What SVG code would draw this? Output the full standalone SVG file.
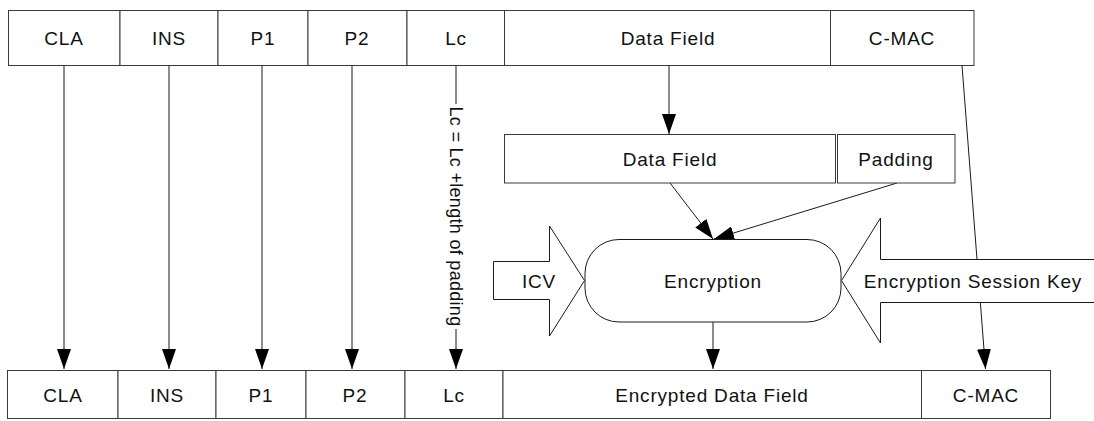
<svg xmlns="http://www.w3.org/2000/svg" width="1094" height="421" viewBox="0 0 1094 421">
<defs>
<marker id="ah" viewBox="0 0 20 14" refX="20" refY="7" markerWidth="20" markerHeight="14" markerUnits="userSpaceOnUse" orient="auto">
<path d="M0,0 L20,7 L0,14 Z" fill="#000"/>
</marker>
<style>
.box{fill:#fff;stroke:#3a3a3a;stroke-width:1}
.shape{fill:#fff;stroke:#1a1a1a;stroke-width:1}
.t{font-family:"Liberation Sans",Arial,sans-serif;font-size:19px;letter-spacing:0.8px;fill:#111;text-anchor:middle;dominant-baseline:central}
.c{fill:none;stroke:#1a1a1a;stroke-width:1}
.ca{fill:none;stroke:#1a1a1a;stroke-width:1;marker-end:url(#ah)}
</style>
</defs>
<rect width="1094" height="421" fill="#fff"/>

<g id="top-row">
<g id="top-cla"><rect class="box" x="8.5" y="10.5" width="111.5" height="55"/><text class="t" x="64" y="38">CLA</text></g>
<g id="top-ins"><rect class="box" x="120" y="10.5" width="98" height="55"/><text class="t" x="169" y="38">INS</text></g>
<g id="top-p1"><rect class="box" x="218" y="10.5" width="90" height="55"/><text class="t" x="263" y="38">P1</text></g>
<g id="top-p2"><rect class="box" x="308" y="10.5" width="99" height="55"/><text class="t" x="357" y="38">P2</text></g>
<g id="top-lc"><rect class="box" x="407" y="10.5" width="97.5" height="55"/><text class="t" x="456" y="38">Lc</text></g>
<g id="top-data"><rect class="box" x="504.5" y="10.5" width="326" height="55"/><text class="t" x="668" y="38">Data Field</text></g>
<g id="top-cmac"><rect class="box" x="830.5" y="10.5" width="143.5" height="55"/><text class="t" x="902" y="38">C-MAC</text></g>
</g>

<g id="connectors">
<line class="ca" x1="64" y1="65.5" x2="64" y2="369"/>
<line class="ca" x1="169" y1="65.5" x2="169" y2="369"/>
<line class="ca" x1="262" y1="65.5" x2="262" y2="369"/>
<line class="ca" x1="352" y1="65.5" x2="352" y2="369"/>
<line class="c" x1="456" y1="65.5" x2="456" y2="104"/>
<line class="ca" x1="456" y1="329" x2="456" y2="369"/>
<line class="ca" x1="669" y1="65.5" x2="669" y2="134"/>
<line class="ca" x1="670" y1="183" x2="713" y2="239"/>
<line class="ca" x1="897" y1="183" x2="714" y2="239"/>
<line class="ca" x1="713" y1="322" x2="713" y2="369"/>
<line class="ca" x1="962" y1="65.5" x2="985.5" y2="369"/>
</g>

<g id="lc-label">
<text class="t" style="font-size:18px;letter-spacing:0.3px" transform="translate(456,216.5) rotate(90)">Lc = Lc +length of padding</text>
</g>

<g id="mid-data"><rect class="box" x="504.5" y="134.5" width="331" height="48.5"/><text class="t" x="670" y="159">Data Field</text></g>
<g id="mid-padding"><rect class="box" x="837.5" y="134.5" width="117.5" height="48.5"/><text class="t" x="896" y="159">Padding</text></g>

<g id="encryption"><rect class="shape" x="585" y="239.5" width="256" height="82.5" rx="34" ry="34"/><text class="t" x="713" y="281">Encryption</text></g>

<g id="icv"><path class="shape" d="M493.5,261.5 H549.5 V226 L584.5,280.5 L549.5,336 V299.5 H493.5 Z"/><text class="t" x="539" y="281">ICV</text></g>

<g id="session-key"><path class="shape" d="M1100,259.5 H880.5 V218 L841.5,280.5 L880.5,343 V302.5 H1100 Z"/><text class="t" x="973" y="281">Encryption Session Key</text></g>

<g id="bottom-row">
<g id="bot-cla"><rect class="box" x="7.5" y="370.5" width="110.5" height="48"/><text class="t" x="63" y="395">CLA</text></g>
<g id="bot-ins"><rect class="box" x="118" y="370.5" width="98" height="48"/><text class="t" x="167" y="395">INS</text></g>
<g id="bot-p1"><rect class="box" x="216" y="370.5" width="90" height="48"/><text class="t" x="261" y="395">P1</text></g>
<g id="bot-p2"><rect class="box" x="306" y="370.5" width="99" height="48"/><text class="t" x="355" y="395">P2</text></g>
<g id="bot-lc"><rect class="box" x="405" y="370.5" width="98" height="48"/><text class="t" x="454" y="395">Lc</text></g>
<g id="bot-data"><rect class="box" x="503" y="370.5" width="418.5" height="48"/><text class="t" x="712" y="395">Encrypted Data Field</text></g>
<g id="bot-cmac"><rect class="box" x="921.5" y="370.5" width="129" height="48"/><text class="t" x="986" y="395">C-MAC</text></g>
</g>
</svg>
